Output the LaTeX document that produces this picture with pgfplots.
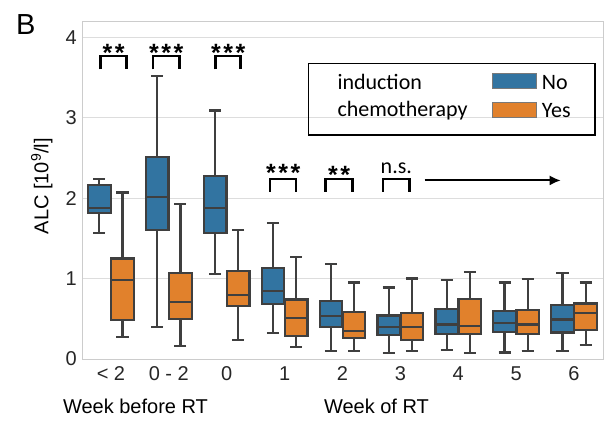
\documentclass[border=0pt]{standalone}
\usepackage{pgfplots}
\pgfplotsset{compat=1.18}
\usepgfplotslibrary{statistics}
\usetikzlibrary{arrows.meta}
\usepackage{fontspec}
\setmainfont{Liberation Sans}
\newfontfamily\calibri{Carlito}
\definecolor{c0}{HTML}{3274A1}
\definecolor{c1}{HTML}{E1812C}
\definecolor{edgec}{HTML}{3F3F3F}
\definecolor{gridc}{HTML}{DDDDDD}
\definecolor{spinec}{HTML}{CCCCCC}
\pgfplotsset{bx/.style={draw=edgec, line width=2.2bp, solid, mark=none, forget plot}}
\newcommand{\tf}{\fontsize{20bp}{24bp}\selectfont}
\newcommand{\cf}{\calibri\fontsize{22bp}{26bp}\selectfont}
\newcommand{\stf}{\bfseries\fontsize{25bp}{30bp}\selectfont}
\newcommand{\twostar}{*\kern2.5bp*}
\newcommand{\threestar}{*\kern2.5bp*\kern2.5bp*}
\begin{document}
\begin{tikzpicture}
\useasboundingbox (0,0) rectangle (607bp,427bp);
\begin{axis}[
  at={(82bp,68bp)}, anchor=south west,
  scale only axis, width=521bp, height=337bp,
  xmin=-0.5, xmax=8.5, ymin=0, ymax=4.19,
  xtick={0,1,2,3,4,5,6,7,8},
  xticklabels={< 2, 0 - 2, 0, 1, 2, 3, 4, 5, 6},
  ytick={0,1,2,3,4},
  major tick length=0,
  /pgf/number format/assume math mode=true,
  ticklabel style={font=\tf, text=black!85},
  xticklabel style={inner sep=0pt, yshift=-7.5bp},
  yticklabel style={inner sep=0pt, xshift=-5bp},
  ymajorgrids, grid style={gridc, line width=1bp},
  axis line style={spinec, line width=1bp},
  ylabel={ALC [10\textsuperscript{9}/l]},
  every axis y label/.style={at={(axis description cs:-0.077,0.513)}, rotate=90, anchor=center, font=\tf, inner sep=0pt},
  boxplot/draw direction=y,
  boxplot/box extend=0.39, boxplot/whisker extend=0.21,
  boxplot/every whisker/.style={draw=edgec, line width=2.2bp},
  boxplot/every median/.style={draw=edgec, line width=2.2bp},
  boxplot/every box/.style={draw=edgec, line width=2.2bp},
]
% < 2
\addplot[bx, fill=c0, boxplot prepared={draw position=-0.2, lower whisker=1.57, lower quartile=1.82, median=1.88, upper quartile=2.16, upper whisker=2.24}] coordinates {};
\addplot[bx, fill=c1, boxplot prepared={draw position=0.2, lower whisker=0.27, lower quartile=0.48, median=0.985, upper quartile=1.25, upper whisker=2.07}] coordinates {};
% 0 - 2
\addplot[bx, fill=c0, boxplot prepared={draw position=0.8, lower whisker=0.40, lower quartile=1.60, median=2.01, upper quartile=2.51, upper whisker=3.52}] coordinates {};
\addplot[bx, fill=c1, boxplot prepared={draw position=1.2, lower whisker=0.16, lower quartile=0.50, median=0.71, upper quartile=1.07, upper whisker=1.93}] coordinates {};
% 0
\addplot[bx, fill=c0, boxplot prepared={draw position=1.8, lower whisker=1.06, lower quartile=1.57, median=1.88, upper quartile=2.28, upper whisker=3.09}] coordinates {};
\addplot[bx, fill=c1, boxplot prepared={draw position=2.2, lower whisker=0.24, lower quartile=0.66, median=0.80, upper quartile=1.09, upper whisker=1.60}] coordinates {};
% 1
\addplot[bx, fill=c0, boxplot prepared={draw position=2.8, lower whisker=0.32, lower quartile=0.68, median=0.85, upper quartile=1.13, upper whisker=1.69}] coordinates {};
\addplot[bx, fill=c1, boxplot prepared={draw position=3.2, lower whisker=0.15, lower quartile=0.29, median=0.51, upper quartile=0.74, upper whisker=1.27}] coordinates {};
% 2
\addplot[bx, fill=c0, boxplot prepared={draw position=3.8, lower whisker=0.10, lower quartile=0.40, median=0.53, upper quartile=0.72, upper whisker=1.18}] coordinates {};
\addplot[bx, fill=c1, boxplot prepared={draw position=4.2, lower whisker=0.10, lower quartile=0.26, median=0.35, upper quartile=0.58, upper whisker=0.95}] coordinates {};
% 3
\addplot[bx, fill=c0, boxplot prepared={draw position=4.8, lower whisker=0.07, lower quartile=0.30, median=0.40, upper quartile=0.54, upper whisker=0.89}] coordinates {};
\addplot[bx, fill=c1, boxplot prepared={draw position=5.2, lower whisker=0.10, lower quartile=0.24, median=0.40, upper quartile=0.57, upper whisker=1.00}] coordinates {};
% 4
\addplot[bx, fill=c0, boxplot prepared={draw position=5.8, lower whisker=0.11, lower quartile=0.31, median=0.43, upper quartile=0.62, upper whisker=0.98}] coordinates {};
\addplot[bx, fill=c1, boxplot prepared={draw position=6.2, lower whisker=0.07, lower quartile=0.31, median=0.41, upper quartile=0.75, upper whisker=1.08}] coordinates {};
% 5
\addplot[bx, fill=c0, boxplot prepared={draw position=6.8, lower whisker=0.08, lower quartile=0.34, median=0.45, upper quartile=0.60, upper whisker=0.95}] coordinates {};
\addplot[bx, fill=c1, boxplot prepared={draw position=7.2, lower whisker=0.10, lower quartile=0.31, median=0.43, upper quartile=0.61, upper whisker=0.99}] coordinates {};
% 6
\addplot[bx, fill=c0, boxplot prepared={draw position=7.8, lower whisker=0.10, lower quartile=0.33, median=0.49, upper quartile=0.67, upper whisker=1.07}] coordinates {};
\addplot[bx, fill=c1, boxplot prepared={draw position=8.2, lower whisker=0.17, lower quartile=0.36, median=0.57, upper quartile=0.69, upper whisker=0.95}] coordinates {};
% significance brackets
\begin{scope}[line width=2.5bp, line join=miter]
\draw (axis cs:-0.18,3.60) -- (axis cs:-0.18,3.77) -- (axis cs:0.27,3.77) -- (axis cs:0.27,3.60);
\draw (axis cs:0.73,3.60) -- (axis cs:0.73,3.77) -- (axis cs:1.18,3.77) -- (axis cs:1.18,3.60);
\draw (axis cs:1.81,3.60) -- (axis cs:1.81,3.77) -- (axis cs:2.24,3.77) -- (axis cs:2.24,3.60);
\draw (axis cs:2.75,2.08) -- (axis cs:2.75,2.24) -- (axis cs:3.20,2.24) -- (axis cs:3.20,2.08);
\draw (axis cs:3.71,2.08) -- (axis cs:3.71,2.24) -- (axis cs:4.17,2.24) -- (axis cs:4.17,2.08);
\draw (axis cs:4.70,2.08) -- (axis cs:4.70,2.24) -- (axis cs:5.16,2.24) -- (axis cs:5.16,2.08);
\end{scope}
\node[anchor=base, inner sep=0pt, font=\stf] at (axis cs:0.045,3.70) {\twostar};
\node[anchor=base, inner sep=0pt, font=\stf] at (axis cs:0.955,3.70) {\threestar};
\node[anchor=base, inner sep=0pt, font=\stf] at (axis cs:2.025,3.70) {\threestar};
\node[anchor=base, inner sep=0pt, font=\stf] at (axis cs:2.975,2.21) {\threestar};
\node[anchor=base, inner sep=0pt, font=\stf] at (axis cs:3.94,2.18) {\twostar};
\node[anchor=base, inner sep=0pt, font=\cf] at (axis cs:4.93,2.31) {n.s.};
\draw[line width=2bp, -{Latex[length=11bp,width=10bp]}] (axis cs:5.42,2.22) -- (axis cs:7.77,2.22);
\end{axis}
% legend
\draw[line width=1.5bp] (308.3bp,292bp) rectangle (595bp,363.7bp);
\node[anchor=base west, inner sep=0pt, font=\cf] at (337.3bp,337.7bp) {induction};
\node[anchor=base west, inner sep=0pt, font=\cf] at (337.3bp,310.3bp) {chemotherapy};
\draw[fill=c0, draw=edgec!70, line width=0.8bp] (492.7bp,338.7bp) rectangle (536.7bp,353.7bp);
\draw[fill=c1, draw=edgec!70, line width=0.8bp] (492.7bp,309.3bp) rectangle (536.7bp,324.3bp);
\node[anchor=base west, inner sep=0pt, font=\cf] at (541.7bp,337.7bp) {No};
\node[anchor=base west, inner sep=0pt, font=\cf] at (541.7bp,309.5bp) {Yes};
% axis group labels
\node[anchor=base, inner sep=0pt, font=\tf] at (135.5bp,14bp) {Week before RT};
\node[anchor=base, inner sep=0pt, font=\tf] at (376.5bp,14bp) {Week of RT};
% panel letter
\node[anchor=base west, inner sep=0pt, font=\fontsize{29bp}{34bp}\selectfont] at (16bp,392.7bp) {B};
\end{tikzpicture}
\end{document}
